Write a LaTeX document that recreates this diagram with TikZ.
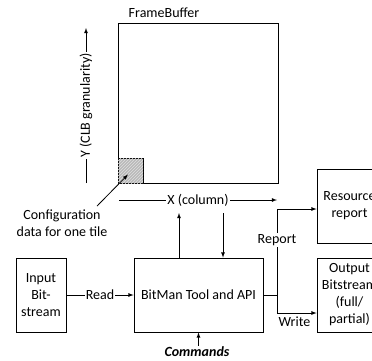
\documentclass[tikz,border=0pt]{standalone}
\usepackage{fontspec}
\setmainfont{Carlito}
\usetikzlibrary{calc}
\usetikzlibrary{patterns}

\tikzset{
  blockbox/.style={draw, line width=0.8pt, align=center, inner sep=2pt},
  arrowline/.style={line width=0.8pt, -latex},
  lbl/.style={fill=white, inner sep=1pt},
}

\begin{document}
\begin{tikzpicture}[x=1pt, y=-1pt, every node/.style={font=\fontsize{14}{17}\selectfont}]
            \useasboundingbox (0,0) rectangle (372,360);
            \clip (0,0) rectangle (372,360);

            % Drawing frame buffer
            \node [blockbox, minimum width=160pt, minimum height=160pt] (fb) at (198,103) {};%
            \node (fbname) at (164,13) {FrameBuffer};%

            % Marking one tile
            \node [draw, line width=0.8pt, fill=gray!55, postaction={pattern=north east lines, pattern color=gray!25}, minimum size=25pt, inner sep=0pt, anchor=south west] (tile) at (fb.south west) {};%

            % Drawing axis Y
            \coordinate (ybot) at (86,183);%
            \coordinate (ytop) at (86,28);%
            \draw [arrowline] (ybot) -- node [lbl, rotate=90] {Y (CLB granularity)} (ytop);%

            % Drawing axis X
            \coordinate (xleft) at (119,200);%
            \coordinate (xright) at (277,200);%
            \draw [arrowline] (xleft) -- node [lbl] {X (column)} (xright);%

            % Tile label
            \node [align=center] (cfg) at (62,223) {Configuration\\data for one tile};%
            \draw [arrowline] ([xshift=35pt]cfg.north) -- ([shift={(-2.5pt,-4pt)}]tile.center);%

            % Drawing blocks
            \node [blockbox, minimum width=129pt, minimum height=74pt] (bitman) at (198.5,295) {BitMan Tool and API};%
            \node [blockbox, minimum width=50pt, minimum height=74pt] (input) at (41,295) {Input\\Bit-\\stream};%
            \node [blockbox, minimum width=65pt, minimum height=74pt] (res) at (349.5,206) {Resource\\report};%
            \node [blockbox, minimum width=65pt, minimum height=74pt] (out) at (349.5,295) {Output\\Bitstream\\(full/\\partial)};%

            % Drawing read
            \draw [arrowline] (input.east) -- node [lbl] {Read} (bitman.west);%

            % Drawing links to frame buffer
            \coordinate (fbin) at (179,213);%
            \coordinate (fbout) at (223,213);%
            \draw [arrowline] (fbin |- bitman.north) -- (fbin);%
            \draw [arrowline] (fbout) -- (fbout |- bitman.north);%

            % Drawing commands
            \node [font=\fontsize{14}{17}\selectfont\bfseries\itshape, inner sep=1pt] (cmd) at (197,352) {Commands};%
            \draw [arrowline] (cmd.north -| bitman.south) -- (bitman.south);%

            % Drawing report and write
            \coordinate (split) at (277,295);%
            \draw [line width=0.8pt] (bitman.east) -- (split);%
            \draw [arrowline] (split) |- node [lbl, pos=0.32] {Report} ([yshift=-3pt]res.west);%
            \draw [arrowline] (split) |- node [pos=0.72, below] {Write} ([yshift=-18pt]out.west);%
\end{tikzpicture}
\end{document}
